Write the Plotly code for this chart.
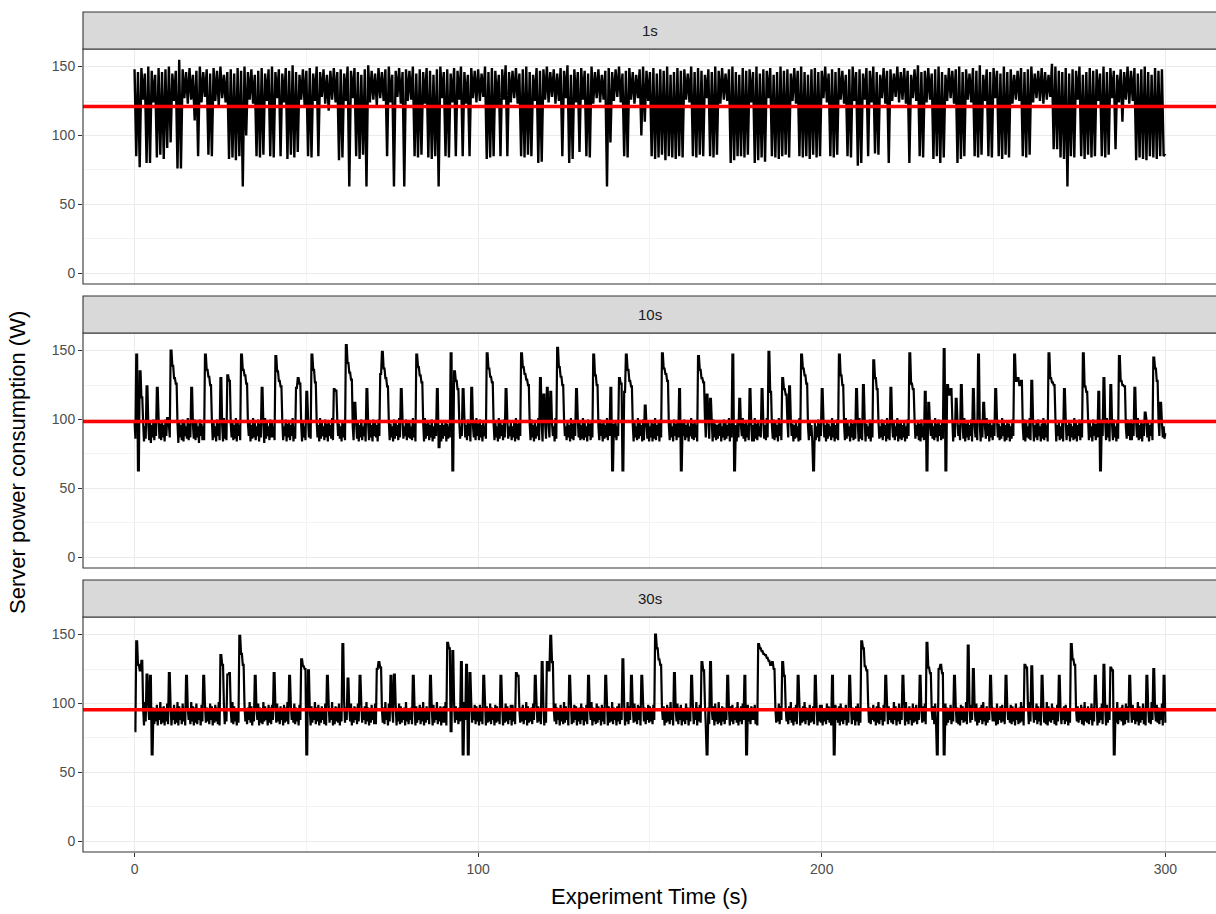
import plotly.graph_objects as go

# ---------------- data ----------------
facet_labels = ["1s", "10s", "30s"]
mean_power = [121.0, 98.5, 95.5]
x_ticks = [0, 100, 200, 300]
y_ticks = [0, 50, 100, 150]

# 1s panel: per-second peak (t = k) and trough (t = k + 0.5)
peaks_1s = [
    148,146,149,145,150,147,144,149,146,148,
    150,145,147,155,148,146,149,144,147,150,
    146,148,145,149,147,150,144,146,148,145,
    149,147,150,146,148,144,147,149,145,148,
    150,146,148,145,149,147,151,146,144,148,
    147,149,145,150,146,148,144,147,149,146,
    148,145,150,147,149,146,144,148,151,147,
    145,149,146,148,150,144,147,149,146,148,
    147,150,145,148,146,149,147,144,148,150,
    146,148,145,149,147,150,146,144,149,147,
    148,145,150,146,149,147,144,148,151,146,
    147,149,145,148,150,146,144,149,147,148,
    150,146,148,145,149,147,151,144,148,146,
    149,147,145,150,146,148,144,147,149,146,
    148,150,145,147,149,146,144,148,150,147,
    146,149,145,148,147,150,144,146,149,147,
    148,145,150,146,149,147,144,148,146,150,
    147,149,145,148,150,146,144,149,147,148,
    146,150,145,148,147,149,144,146,150,147,
    148,145,149,147,150,146,144,148,149,146,
    147,150,145,148,146,149,147,144,148,150,
    146,148,145,149,147,150,146,144,149,147,
    148,145,150,146,149,147,144,148,151,146,
    147,149,145,148,150,146,144,149,147,148,
    150,146,148,145,149,147,151,144,148,146,
    149,147,145,150,146,148,144,147,149,146,
    148,150,145,147,149,146,144,152,150,147,
    146,149,145,148,147,150,144,146,149,147,
    148,145,150,146,149,147,144,148,146,150,
    147,149,145,148,150,146,144,149,147,148,
    87,
]
troughs_1s = [
    85,77,126,80,80,124,84,86,83,91,
    95,125,76,76,127,123,126,111,85,124,
    128,86,85,125,122,127,124,83,84,82,
    85,63,100,126,123,85,84,86,125,85,
    84,127,85,124,83,86,84,88,126,122,
    85,84,125,85,128,123,118,126,124,82,
    84,125,63,127,85,83,86,63,124,126,
    122,127,125,85,124,63,128,123,63,125,
    126,85,84,86,123,84,83,85,63,127,
    85,84,124,85,126,85,123,85,127,124,
    125,128,83,84,85,122,85,126,85,124,
    127,123,85,84,86,85,125,80,81,126,
    124,128,123,125,85,127,80,83,124,88,
    126,85,84,123,127,124,126,63,95,125,
    128,124,85,84,126,123,127,100,110,125,
    85,83,84,86,82,85,84,83,85,84,
    126,124,85,84,86,85,127,85,84,86,
    123,126,125,80,82,85,85,84,86,124,
    80,82,84,81,127,85,84,83,85,86,
    84,125,123,85,84,85,83,86,84,85,
    127,124,85,84,86,126,123,85,84,125,
    78,80,126,85,124,87,86,127,123,80,
    125,128,124,126,123,80,127,125,85,84,
    124,126,83,85,80,84,125,127,123,80,
    83,85,126,124,85,84,86,125,85,84,
    127,85,83,86,84,123,126,125,85,84,
    86,124,127,125,123,126,128,90,90,84,
    83,63,85,84,126,85,83,86,84,85,
    125,85,84,86,127,90,124,110,126,123,
    125,82,84,83,82,85,84,83,85,85,
]

# 10s panel: baseline every 0.25 s (one row = 10 s), plus spikes (time, watts)
base_10s = [
    [99,86,97,84,100,87,96,85,101,88,98,84,95,86,100,87,97,85,99,83,96,87,100,85,98,88,95,84,101,86,97,85,99,87,96,84,100,88,98,85],
    [96,87,100,84,98,86,95,85,101,88,97,83,99,87,96,85,100,84,98,88,95,86,101,85,97,87,99,84,96,86,100,85,98,87,95,83,100,88,97,85],
    [95,85,101,87,97,84,99,88,96,86,100,85,98,87,95,84,100,88,97,85,99,87,96,84,101,86,98,85,95,88,100,83,97,87,99,85,96,86,101,84],
    [99,88,96,85,101,86,98,84,95,87,100,85,97,88,99,84,96,86,101,87,98,85,95,88,100,84,97,87,99,85,96,83,101,86,98,88,95,85,100,87],
    [98,87,95,85,100,88,97,84,101,86,96,87,99,85,95,88,100,84,97,87,98,85,96,88,101,84,95,86,99,87,97,85,100,88,96,84,98,87,95,85],
    [96,85,101,87,98,86,95,84,100,88,97,85,99,87,96,84,101,86,98,88,95,85,100,87,97,84,99,88,96,86,101,85,98,87,95,84,100,88,97,86],
    [95,84,99,87,97,85,101,88,96,86,98,84,100,87,95,85,101,88,97,86,99,84,96,87,100,85,95,88,98,84,101,86,97,85,99,87,96,84,100,88],
    [99,87,96,84,100,88,97,85,95,87,101,86,98,84,96,88,99,85,97,87,95,84,100,86,98,88,96,85,101,87,97,84,99,86,95,88,100,85,98,87],
    [98,86,95,85,101,87,97,84,99,88,96,86,100,85,95,87,98,84,101,86,97,88,99,85,96,87,100,84,95,86,98,88,101,85,97,87,96,84,99,86],
    [96,88,99,84,97,86,95,87,101,85,98,88,96,84,100,87,97,85,99,86,95,88,98,84,101,87,96,85,100,88,97,84,99,86,95,87,98,85,101,88],
    [97,85,100,87,96,84,99,88,95,86,101,85,98,87,96,84,100,88,97,85,99,87,95,84,101,86,98,88,96,85,100,87,97,84,99,86,95,88,98,85],
    [95,87,98,84,101,86,97,85,99,88,96,84,100,87,95,85,101,86,98,88,97,85,100,87,96,84,99,86,95,88,101,85,98,87,96,84,100,88,97,86],
    [99,84,96,87,100,85,97,88,95,84,101,86,98,85,96,87,99,84,97,86,100,88,95,85,98,87,96,84,101,86,97,85,99,88,95,84,100,87,98,85],
    [96,86,101,85,98,87,95,84,100,88,97,85,99,87,96,86,101,84,98,87,95,85,100,88,97,84,99,86,96,87,101,85,98,88,95,84,100,86,97,87],
    [98,85,95,88,100,84,97,87,96,85,101,88,99,84,95,86,100,85,97,88,96,84,99,87,95,85,101,86,98,88,96,84,100,85,97,87,95,86,99,84],
    [95,87,99,84,97,86,101,85,96,88,98,84,100,87,97,85,95,88,99,84,101,86,96,85,98,87,95,84,100,88,97,85,99,87,96,84,101,86,98,88],
    [100,85,96,87,98,84,95,88,101,86,97,85,99,87,96,84,100,86,98,85,95,88,97,84,101,87,96,85,99,86,95,88,98,84,100,87,97,85,96,86],
    [97,88,99,84,95,87,100,85,98,86,96,88,101,84,97,87,95,85,99,88,96,84,100,87,98,85,95,88,101,86,97,84,99,87,96,85,100,88,95,84],
    [96,84,101,86,97,85,99,88,95,87,100,84,98,86,96,85,101,87,97,84,99,88,95,86,100,85,98,87,96,84,101,88,97,85,95,86,99,84,98,87],
    [99,87,95,85,100,88,97,84,96,86,99,87,95,84,101,85,98,88,96,86,100,84,97,87,95,85,99,88,96,84,101,86,98,85,95,87,100,84,97,88],
    [98,85,100,87,96,84,99,86,97,88,95,85,101,87,98,84,96,86,100,85,97,88,95,84,99,87,96,85,101,86,98,88,95,84,100,87,97,85,99,86],
    [95,88,97,84,101,86,98,85,96,87,99,84,97,88,95,86,100,84,98,87,96,85,101,88,97,84,99,86,95,87,100,85,98,88,96,84,101,86,97,85],
    [100,84,96,87,99,85,95,88,101,84,97,86,98,85,96,87,99,84,95,86,100,88,97,85,98,87,95,84,101,86,96,88,99,85,97,84,100,87,95,85],
    [97,87,100,85,98,84,96,88,99,86,95,85,101,87,97,84,100,88,96,85,98,86,95,87,99,84,101,85,97,88,96,86,100,84,98,87,95,85,99,88],
    [96,85,98,88,95,86,101,84,97,87,99,85,96,88,100,84,98,86,95,87,99,85,97,88,96,84,100,87,98,85,95,86,101,88,97,84,99,87,96,85],
    [99,88,96,84,100,87,97,85,95,86,101,88,98,84,96,85,99,87,97,84,95,86,100,88,98,85,96,87,101,84,97,86,99,88,95,85,100,84,98,87],
    [95,86,101,85,97,88,99,84,96,87,98,85,100,88,95,84,97,86,101,85,98,87,96,84,99,88,95,86,100,85,97,87,101,84,96,88,98,85,95,86],
    [98,84,95,87,100,85,96,88,99,84,97,87,95,85,101,86,98,84,96,88,100,85,97,87,95,84,99,88,96,86,101,85,98,87,95,84,100,88,97,85],
    [97,87,99,85,96,84,100,88,95,86,98,85,101,87,97,84,99,88,96,85,100,87,95,84,98,86,101,88,97,85,96,87,99,84,95,86,100,88,98,85],
    [100,85,97,88,95,84,98,87,101,85,96,86,99,84,97,88,95,85,100,87,98,84,96,88,99,85,95,87,101,86,97,84,100,88,96,85,98,87,95,86],
    [90],
]
spikes_10s = [
    (0.5,147),(1.0,63),(1.5,135),(2.0,116),(3.5,124),(6.5,123),(9.5,101),
    (10.5,150),(11.0,139),(11.5,130),(12.0,126),(16.5,123),(20.5,147),(21.0,136),
    (21.5,131),(22.0,125),(25.0,130),(27.0,132),(27.5,128),(31.0,147),(31.5,136),
    (32.0,132),(32.5,126),(37.0,123),(41.0,146),(41.5,135),(42.0,128),(42.5,124),
    (47.0,123),(47.5,130),(48.0,126),(50.0,120),(51.5,147),(52.0,136),(52.5,127),
    (58.0,122),(58.5,121),(61.5,154),(62.0,141),(62.5,134),(63.0,129),(64.0,112),
    (67.5,122),(71.5,133),(72.0,149),(72.5,137),(73.0,130),(73.5,124),(77.5,122),
    (82.0,147),(82.5,138),(83.0,132),(83.5,127),(88.0,122),(88.5,80),(92.0,148),
    (92.5,63),(93.0,135),(93.5,128),(94.0,122),(95.5,122),(98.0,123),(102.5,148),
    (103.0,137),(103.5,131),(104.0,127),(108.0,122),(112.5,148),(113.0,138),
    (113.5,133),(114.0,129),(114.5,125),(118.0,130),(119.0,118),(120.0,123),
    (121.0,120),(123.0,152),(123.5,138),(124.0,131),(124.5,125),(128.5,122),
    (133.5,147),(134.0,132),(134.5,125),(138.5,123),(139.0,63),(141.0,130),
    (141.5,126),(142.0,63),(142.5,120),(143.0,147),(143.5,136),(144.0,128),
    (144.5,124),(148.5,110),(153.5,148),(154.0,137),(154.5,133),(155.0,128),
    (158.5,122),(159.0,63),(164.0,146),(164.5,136),(165.0,130),(165.5,127),
    (166.5,118),(167.5,115),(174.0,147),(174.5,63),(176.0,115),(179.0,122),
    (182.5,122),(184.5,149),(185.0,120),(188.5,130),(189.0,122),(189.5,118),
    (190.5,124),(194.0,147),(194.5,137),(195.0,132),(195.5,126),(197.5,63),
    (200.0,122),(205.0,147),(205.5,132),(206.0,125),(210.0,122),(212.0,125),
    (215.0,143),(215.5,130),(216.0,122),(220.0,123),(225.5,148),(226.0,126),
    (226.5,122),(230.0,120),(230.5,63),(231.0,112),(235.5,151),(236.0,63),
    (236.5,125),(237.0,118),(237.5,122),(239.0,115),(240.5,125),(244.0,122),
    (245.5,147),(247.0,112),(250.5,122),(256.0,147),(256.5,128),(257.0,130),
    (257.5,125),(258.0,128),(261.0,128),(266.0,148),(266.5,130),(267.0,127),
    (267.5,125),(270.5,122),(276.0,148),(276.5,124),(277.0,120),(280.5,120),
    (281.0,63),(282.0,130),(284.0,125),(286.5,146),(287.0,128),(287.5,125),
    (288.0,124),(291.0,123),(294.0,105),(296.5,145),(297.0,137),(297.5,128),
    (298.5,112),
]

# 30s panel: baseline every 0.25 s (one row = 10 s), plus spikes (time, watts)
base_30s = [
    [98,85,96,87,100,84,95,88,99,86,97,84,101,87,96,85,98,88,95,84,100,86,97,85,96,87,99,84,95,88,101,85,97,86,98,84,96,87,100,85],
    [100,87,97,84,95,88,99,85,96,86,101,84,98,88,95,85,100,87,97,84,99,86,96,88,95,85,101,87,98,84,97,86,100,85,96,88,95,84,99,87],
    [96,84,99,86,97,87,95,85,100,88,98,84,96,86,99,87,97,85,101,84,95,88,98,86,100,85,96,87,97,84,99,88,95,86,101,85,98,87,96,84],
    [95,86,98,88,100,85,96,84,99,87,95,85,97,88,101,86,98,84,96,87,99,85,95,88,100,84,97,86,96,85,101,87,98,88,95,84,99,86,97,85],
    [99,88,95,84,97,86,100,87,96,85,98,88,95,84,99,86,97,87,101,85,96,84,98,88,95,86,100,85,97,87,96,84,99,88,101,85,95,86,98,87],
    [97,85,100,87,96,84,98,86,95,88,101,85,97,87,99,84,96,86,98,88,95,85,100,84,97,87,99,86,96,88,101,84,95,85,98,87,97,86,100,84],
    [96,87,95,84,101,86,97,88,99,85,96,87,100,84,95,86,98,88,97,85,100,87,96,84,99,86,95,88,98,85,101,87,97,84,96,86,99,88,95,85],
    [100,85,98,88,96,84,99,87,95,86,97,85,101,88,96,84,100,87,98,85,95,86,97,88,99,84,96,87,100,85,98,86,95,88,97,84,101,87,96,85],
    [95,88,97,85,100,87,96,84,98,86,95,88,99,85,97,87,101,84,96,86,98,88,95,85,100,87,97,84,99,86,96,88,101,85,95,87,98,84,97,86],
    [98,86,101,84,95,88,97,85,99,87,96,84,100,86,98,88,95,85,97,87,99,84,96,86,101,88,98,85,95,87,97,84,100,86,96,88,99,85,98,87],
    [96,84,99,87,97,85,95,88,101,84,98,86,96,87,100,85,97,88,95,84,99,86,98,87,96,85,101,88,97,84,95,86,100,87,98,85,96,88,99,84],
    [99,87,96,85,98,88,100,84,95,86,97,87,99,85,96,88,101,84,98,86,95,87,97,85,100,88,96,84,99,86,98,87,95,85,101,88,97,84,96,86],
    [97,85,95,88,101,84,98,86,96,87,100,85,97,88,95,84,99,87,96,85,101,86,98,88,95,84,97,87,100,85,96,86,99,88,98,84,95,87,97,85],
    [100,88,97,84,95,87,99,85,98,86,96,88,101,84,97,87,95,85,100,86,98,88,96,84,99,87,97,85,95,88,100,84,98,86,96,87,101,85,97,88],
    [95,84,98,87,100,85,96,88,97,86,99,84,95,87,101,85,98,88,96,84,97,86,100,87,95,85,99,88,98,84,96,86,101,87,97,85,95,88,99,86],
    [98,87,96,85,99,88,101,84,95,86,97,87,100,85,96,88,98,84,95,86,99,87,97,85,101,88,96,84,98,86,95,87,100,85,97,88,99,84,96,87],
    [96,85,100,88,97,84,95,87,99,86,98,85,96,88,101,84,97,87,99,86,95,85,98,88,100,84,96,87,97,85,101,86,95,88,98,84,100,87,96,85],
    [101,86,95,84,98,87,97,85,96,88,100,86,95,84,98,87,99,85,96,88,97,86,101,84,95,87,98,85,100,88,96,84,97,86,99,87,95,85,98,88],
    [97,88,99,85,96,84,100,87,98,86,95,85,101,88,97,84,96,86,100,87,98,85,95,88,99,84,97,86,96,87,100,85,98,88,95,84,101,86,97,87],
    [95,85,98,88,101,86,96,84,97,87,99,85,96,88,100,84,95,86,98,87,101,85,97,88,96,84,99,86,95,87,98,85,100,88,97,84,96,87,99,86],
    [99,84,96,87,95,85,100,88,98,86,97,84,101,87,96,85,99,88,95,86,98,84,100,87,97,85,96,88,99,84,95,86,101,87,98,85,97,88,96,84],
    [98,87,100,84,97,86,95,85,99,88,96,87,98,84,100,86,97,85,95,88,99,87,96,84,98,86,101,85,97,88,95,84,99,87,96,86,100,85,98,88],
    [96,86,95,85,101,88,98,84,96,87,100,85,97,88,95,86,99,84,101,87,96,85,98,88,95,84,100,86,97,87,99,85,96,88,101,84,95,86,98,87],
    [100,85,97,87,96,84,99,86,95,88,98,85,100,87,97,84,96,86,99,88,95,85,98,87,100,84,97,86,96,88,99,85,95,87,101,84,98,86,97,85],
    [95,84,99,88,98,86,96,87,101,85,95,84,97,86,99,88,98,85,96,87,100,84,95,86,97,88,99,85,101,87,96,84,98,86,95,88,100,85,97,87],
    [97,87,96,84,100,85,95,88,98,86,99,87,96,85,101,84,97,88,95,86,99,85,98,87,96,84,100,88,95,85,97,86,101,87,98,84,96,85,99,88],
    [99,85,101,87,95,84,97,86,96,88,100,85,98,87,95,84,99,88,97,86,96,85,101,84,98,87,95,86,100,88,97,85,96,84,99,87,98,86,95,85],
    [96,88,98,85,99,87,96,84,95,86,101,88,97,85,100,84,96,87,98,86,95,88,99,85,97,84,101,87,96,86,98,85,95,88,100,84,97,87,99,86],
    [101,84,95,86,97,88,100,85,98,87,96,84,99,86,95,88,97,85,100,87,98,84,96,86,101,85,95,88,97,87,99,84,96,85,100,88,98,86,95,84],
    [97,86,99,88,96,85,95,87,101,84,98,86,96,88,100,85,95,84,99,87,97,86,96,85,101,88,98,84,95,87,99,86,97,85,96,88,100,84,98,85],
    [86],
]
spikes_30s = [
    (0.0,80),(0.5,145),(1.0,128),(1.5,124),(2.0,131),(3.5,121),(4.5,120),(5.0,63),
    (10.0,122),(15.0,120),(20.0,120),(25.0,135),(25.5,128),(27.0,121),(27.5,122),
    (30.5,149),(31.0,136),(31.5,128),(35.0,120),(40.5,122),(45.0,120),(48.5,132),
    (49.0,127),(49.5,125),(50.0,63),(50.5,124),(56.0,120),(60.5,143),(62.0,118),
    (65.5,120),(70.5,125),(71.0,130),(71.5,126),(74.5,120),(75.5,121),(81.0,120),
    (86.0,120),(91.0,144),(91.5,140),(92.0,80),(92.5,138),(95.0,130),(95.5,63),
    (96.5,128),(97.0,63),(97.5,122),(101.5,120),(106.5,120),(111.0,122),(111.5,120),
    (116.5,120),(118.5,130),(120.0,130),(120.5,124),(121.0,149),(121.5,130),
    (126.5,120),(132.0,120),(137.0,120),(142.0,132),(144.5,120),(147.5,120),
    (151.5,150),(152.0,140),(152.5,132),(153.0,128),(157.0,122),(162.0,120),
    (165.0,130),(165.5,124),(166.5,63),(167.5,130),(172.5,120),(177.5,120),
    (178.0,63),(181.5,143),(182.0,140),(182.5,138),(183.0,136),(183.5,135),
    (184.0,133),(184.5,131),(185.0,128),(185.5,130),(186.0,125),(188.5,130),
    (189.0,120),(193.0,120),(198.0,120),(203.0,120),(203.5,63),(208.0,120),
    (211.5,145),(212.0,140),(212.5,127),(213.0,124),(218.5,120),(223.5,120),
    (228.5,120),(230.5,144),(231.0,126),(231.5,122),(233.5,63),(234.0,125),
    (234.5,128),(235.0,122),(235.5,63),(238.5,120),(242.5,142),(244.0,125),
    (249.0,120),(253.5,120),(259.0,128),(259.5,126),(261.0,127),(264.0,120),
    (269.0,120),(272.5,143),(273.0,132),(273.5,128),(279.5,120),(282.0,128),
    (284.0,126),(284.5,124),(285.0,63),(289.5,120),(294.5,120),(296.5,125),
    (299.5,120),(300.0,86),
]


# ---------------- build series ----------------
def series_1s():
    t, v = [], []
    for k, p in enumerate(peaks_1s):
        t.append(k)
        v.append(p)
        if k < len(troughs_1s):
            t.append(k + 0.5)
            v.append(troughs_1s[k])
    return t, v


def series_from(base_rows, spikes):
    v = [x for row in base_rows for x in row]
    for ts, val in spikes:
        i = int(round(ts * 4))
        for j in (i, i + 1):
            if 0 <= j < len(v):
                v[j] = val
    t = [i * 0.25 for i in range(len(v))]
    return t, v


series = [series_1s(), series_from(base_10s, spikes_10s), series_from(base_30s, spikes_30s)]

# ---------------- figure ----------------
FONT = "Liberation Sans, Arial, Helvetica, sans-serif"
domains = [[0.7073, 1.0], [0.3537, 0.6463], [0.0, 0.2927]]
panel_h = 235.0
strip_h = 37.0
x_range = [-15, 314.74]

fig = go.Figure()
for i, (t, v) in enumerate(series):
    ax = "" if i == 0 else str(i + 1)
    fig.add_trace(go.Scatter(
        x=t, y=v, mode="lines",
        line=dict(color="black", width=2.4 if i == 0 else 2.2, simplify=False),
        xaxis="x" + ax, yaxis="y" + ax, showlegend=False, hoverinfo="skip",
    ))

layout = dict(
    width=1216, height=914,
    margin=dict(l=83, r=0, t=49, b=62),
    paper_bgcolor="white", plot_bgcolor="white",
    font=dict(family=FONT, color="#4D4D4D"),
    shapes=[], annotations=[],
)

for i in range(3):
    ax = "" if i == 0 else str(i + 1)
    bottom = (i == 2)
    layout["xaxis" + ax] = dict(
        domain=[0, 1], anchor="y" + ax, range=x_range,
        tickmode="array", tickvals=x_ticks, ticktext=[str(x) for x in x_ticks],
        showticklabels=bottom, ticks="outside" if bottom else "",
        ticklen=4, tickwidth=1, tickcolor="#333333",
        tickfont=dict(size=14, color="#4D4D4D", family=FONT),
        showgrid=True, gridcolor="#EBEBEB", gridwidth=1.1,
        minor=dict(tickvals=[50, 150, 250], showgrid=True, gridcolor="#F3F3F3", gridwidth=0.6, ticks=""),
        zeroline=False, showline=False,
        matches=None if i == 0 else "x",
    )
    layout["yaxis" + ax] = dict(
        domain=domains[i], anchor="x" + ax, range=[-7.75, 162.75],
        tickmode="array", tickvals=y_ticks, ticktext=[str(y) for y in y_ticks],
        ticks="outside", ticklen=4, tickwidth=1, tickcolor="#333333",
        tickfont=dict(size=14, color="#4D4D4D", family=FONT),
        showgrid=True, gridcolor="#EBEBEB", gridwidth=1.1,
        minor=dict(tickvals=[25, 75, 125], showgrid=True, gridcolor="#F3F3F3", gridwidth=0.6, ticks=""),
        zeroline=False, showline=False,
    )
    xr, yr = "x" + ax + " domain", "y" + ax + " domain"
    layout["shapes"].append(dict(
        type="line", xref=xr, yref="y" + ax, x0=0, x1=1, y0=mean_power[i], y1=mean_power[i],
        line=dict(color="#FF0000", width=3.5), layer="above",
    ))
    layout["shapes"].append(dict(
        type="rect", xref=xr, yref=yr, x0=0, x1=1.01, y0=0, y1=1,
        line=dict(color="#333333", width=1.1), fillcolor="rgba(0,0,0,0)", layer="above",
    ))
    layout["shapes"].append(dict(
        type="rect", xref=xr, yref=yr, x0=0, x1=1.01, y0=1, y1=1 + strip_h / panel_h,
        line=dict(color="#333333", width=1.1), fillcolor="#D9D9D9", layer="above",
    ))
    layout["annotations"].append(dict(
        xref=xr, yref=yr, x=0.5, y=1 + strip_h / (2 * panel_h), text=facet_labels[i],
        showarrow=False, xanchor="center", yanchor="middle",
        font=dict(size=15, color="#1A1A1A", family=FONT),
    ))

layout["annotations"].append(dict(
    xref="paper", yref="paper", x=-0.0574, y=0.4857, text="Server power consumption (W)",
    textangle=-90, showarrow=False, xanchor="center", yanchor="middle",
    font=dict(size=22, color="black", family=FONT),
))
layout["annotations"].append(dict(
    xref="paper", yref="paper", x=0.5, y=-0.056, text="Experiment Time (s)",
    showarrow=False, xanchor="center", yanchor="middle",
    font=dict(size=22, color="black", family=FONT),
))

fig.update_layout(**layout)
fig.write_html(
    "out.html",
    config={"displayModeBar": False},
    post_script="document.body.style.margin='0';document.body.style.overflow='hidden';",
)
